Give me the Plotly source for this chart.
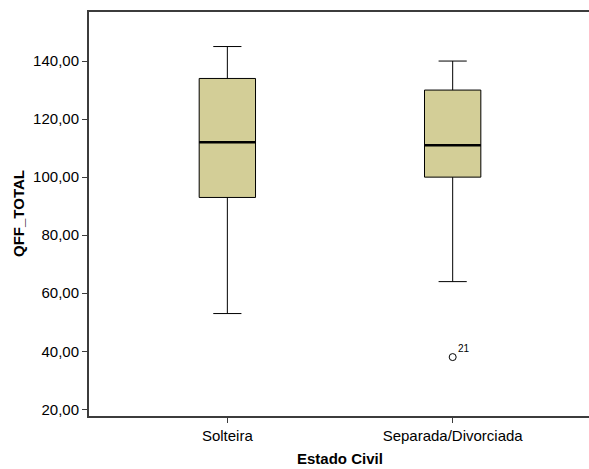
import plotly.graph_objects as go

categories = ["Solteira", "Separada/Divorciada"]
q1 = [93, 100]
medians = [112, 111]
q3 = [134, 130]
lower_whisker = [53, 64]
upper_whisker = [145, 140]
outlier_cat = [1]
outlier_val = [38]
outlier_label = ["21"]
y_ticks = [20, 40, 60, 80, 100, 120, 140]
y_tick_labels = ["20,00", "40,00", "60,00", "80,00", "100,00", "120,00", "140,00"]

BOX_W = 0.25
FONT = "Liberation Sans, Arial, sans-serif"
xpos = list(range(len(categories)))

fig = go.Figure()
fig.add_trace(go.Box(
    x=xpos, q1=q1, median=medians, q3=q3,
    lowerfence=lower_whisker, upperfence=upper_whisker,
    width=BOX_W, whiskerwidth=0.5,
    fillcolor="rgb(211,206,151)",
    line=dict(color="black", width=1),
    boxpoints=False, showlegend=False,
))
mx, my = [], []
for i, m in zip(xpos, medians):
    mx += [i - BOX_W / 2, i + BOX_W / 2, None]
    my += [m, m, None]
fig.add_trace(go.Scatter(x=mx, y=my, mode="lines",
                         line=dict(color="black", width=2.5),
                         showlegend=False, hoverinfo="skip"))
fig.add_trace(go.Scatter(
    x=outlier_cat, y=outlier_val, mode="markers",
    marker=dict(symbol="circle-open", size=7, color="black", line=dict(width=1)),
    showlegend=False,
))
for cx, cy, t in zip(outlier_cat, outlier_val, outlier_label):
    fig.add_annotation(x=cx, y=cy, text=t, showarrow=False, xref="x", yref="y",
                       xshift=11, yshift=9, font=dict(size=10, color="black", family=FONT))

fig.add_annotation(text="QFF_TOTAL", xref="paper", yref="paper", x=-0.142, y=0.5,
                   textangle=-90, showarrow=False, xanchor="center", yanchor="middle",
                   font=dict(size=15, color="black", family=FONT, weight="bold"))
fig.add_annotation(text="Estado Civil", xref="paper", yref="paper", x=0.502, y=-0.1064,
                   showarrow=False, xanchor="center", yanchor="middle",
                   font=dict(size=15, color="black", family=FONT, weight="bold"))

fig.update_layout(
    width=589, height=469,
    margin=dict(l=89, r=0, t=12, b=53),
    paper_bgcolor="white", plot_bgcolor="white",
    font=dict(family=FONT, size=15, color="black"),
    xaxis=dict(range=[-0.614, 1.605], tickvals=xpos, ticktext=categories,
               showgrid=False, zeroline=False, showline=True, linecolor="#3c3c3c",
               linewidth=2, mirror=True, ticks="outside", ticklen=5, tickcolor="#3c3c3c",
               tickwidth=1, tickfont=dict(size=15, color="black")),
    yaxis=dict(range=[17.7, 156.9], tickvals=y_ticks, ticktext=y_tick_labels,
               showgrid=False, zeroline=False, showline=True, linecolor="#3c3c3c",
               linewidth=2, ticks="outside", ticklen=5, tickcolor="#3c3c3c",
               tickwidth=1, tickfont=dict(size=15, color="black")),
)

fig.write_html("out.html")
